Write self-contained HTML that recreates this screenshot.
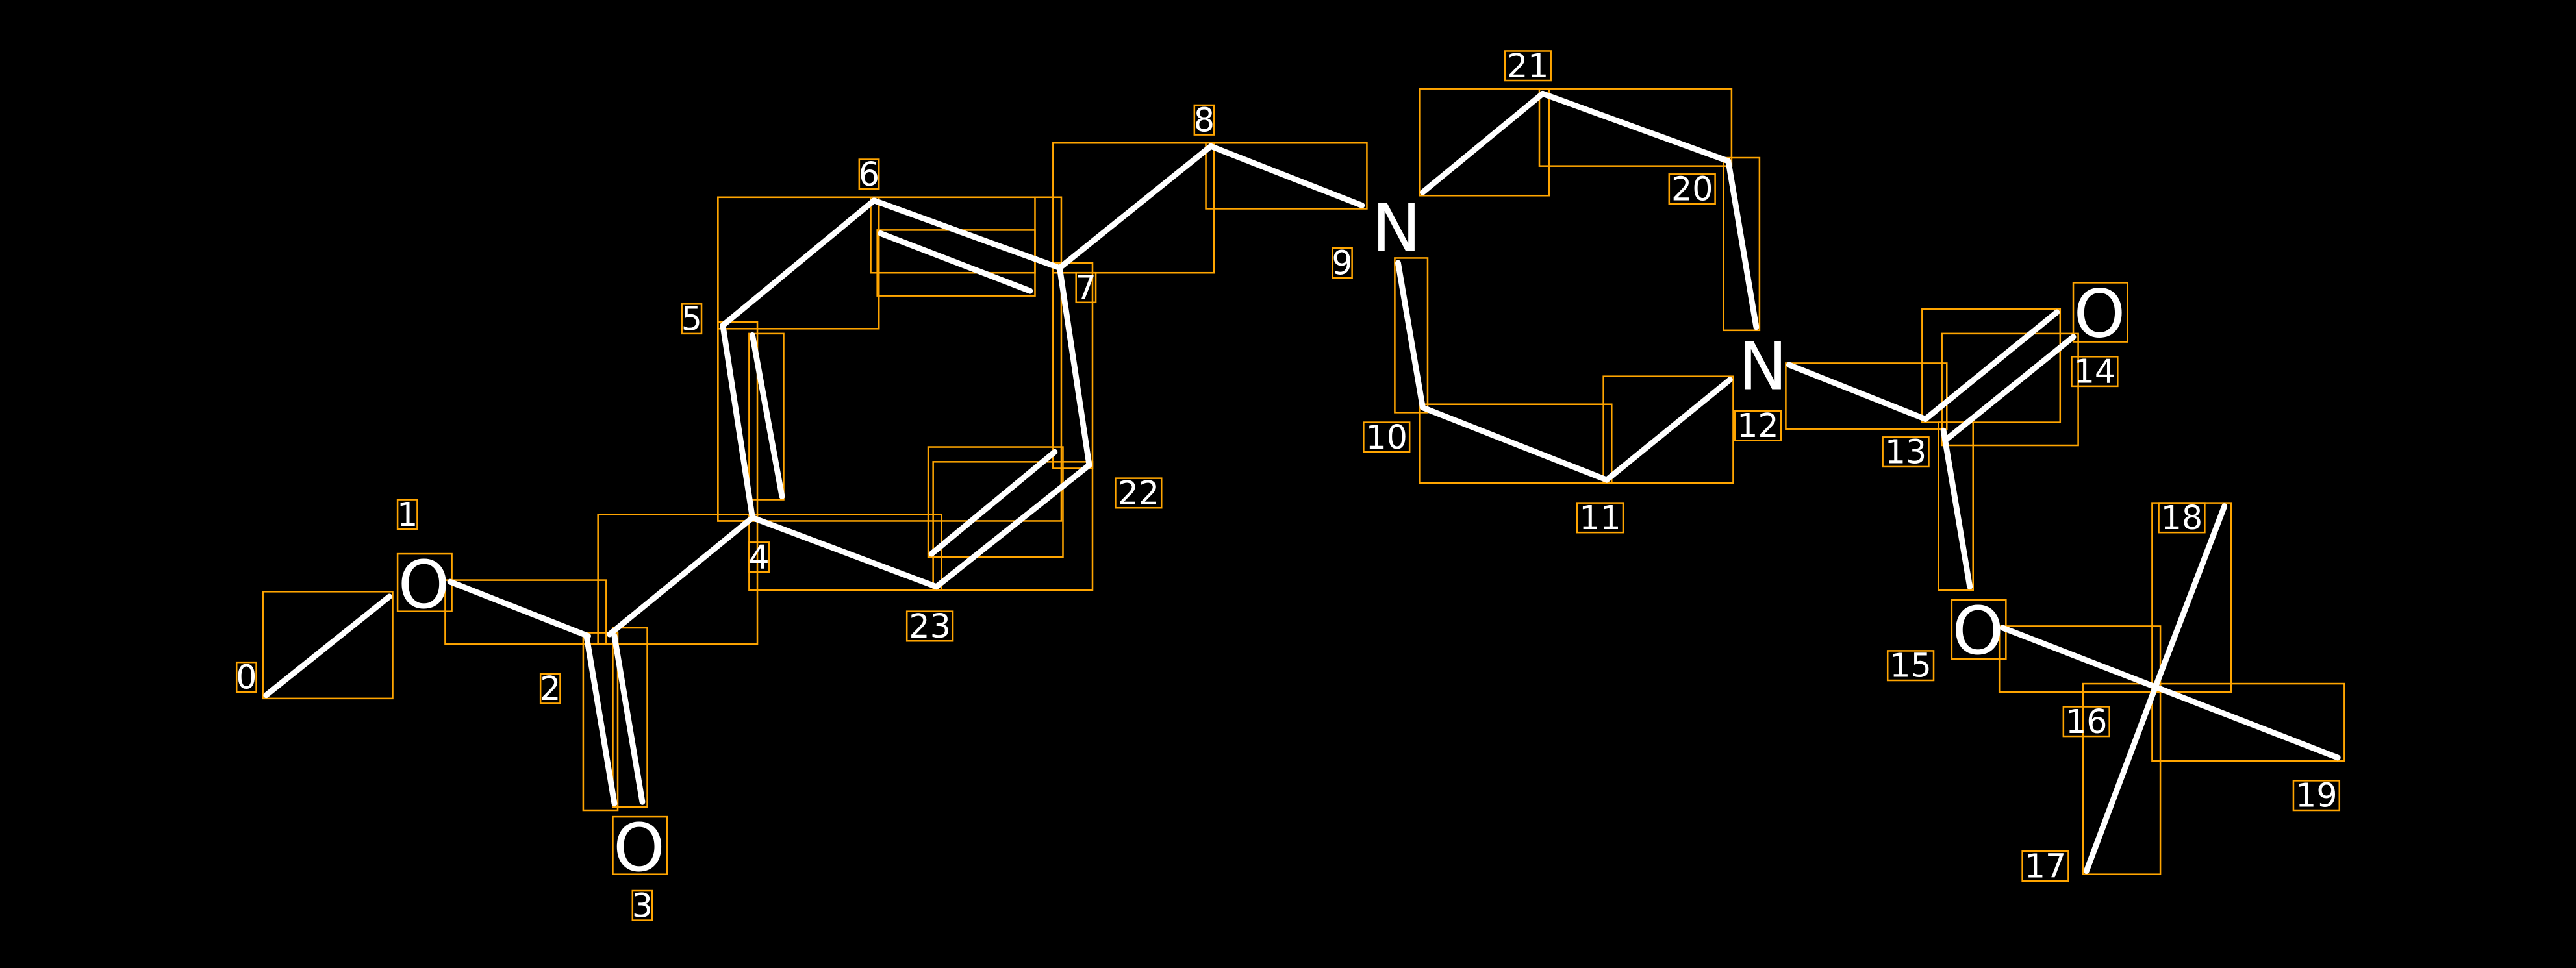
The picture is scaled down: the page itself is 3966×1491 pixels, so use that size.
<!DOCTYPE html>
<html><head><meta charset="utf-8"><style>html,body{margin:0;padding:0;background:#000;overflow:hidden}svg{display:block}</style></head>
<body>
<svg width="3966" height="1491" viewBox="0 0 1568 589" preserveAspectRatio="none" xmlns="http://www.w3.org/2000/svg">
<rect width="1568" height="589" fill="#000"/>
<g fill="none" stroke="#FFA500" stroke-width="1">
<rect x="160" y="360" width="79" height="65"/>
<rect x="271" y="353" width="98" height="39"/>
<rect x="355" y="385" width="21" height="108"/>
<rect x="373" y="382" width="21" height="109"/>
<rect x="364" y="313" width="97" height="79"/>
<rect x="437" y="196" width="24" height="121"/>
<rect x="456" y="203" width="21" height="101"/>
<rect x="437" y="120" width="98" height="80"/>
<rect x="437" y="120" width="209" height="197"/>
<rect x="530" y="120" width="100" height="46"/>
<rect x="534" y="140" width="96" height="40"/>
<rect x="641" y="87" width="98" height="79"/>
<rect x="734" y="87" width="98" height="40"/>
<rect x="641" y="160" width="24" height="125"/>
<rect x="565" y="272" width="82" height="67"/>
<rect x="568" y="281" width="97" height="78"/>
<rect x="456" y="313" width="117" height="46"/>
<rect x="864" y="54" width="79" height="65"/>
<rect x="937" y="54" width="117" height="47"/>
<rect x="1049" y="96" width="22" height="105"/>
<rect x="849" y="157" width="20" height="94"/>
<rect x="864" y="246" width="117" height="48"/>
<rect x="976" y="229" width="79" height="65"/>
<rect x="1087" y="221" width="98" height="40"/>
<rect x="1170" y="188" width="84" height="69"/>
<rect x="1182" y="203" width="83" height="68"/>
<rect x="1180" y="257" width="21" height="102"/>
<rect x="1217" y="381" width="98" height="40"/>
<rect x="1268" y="416" width="47" height="116"/>
<rect x="1310" y="306" width="48" height="115"/>
<rect x="1310" y="416" width="117" height="47"/>
<rect x="242" y="337" width="33" height="35"/>
<rect x="373" y="497" width="33" height="35"/>
<rect x="1262" y="172" width="33" height="36"/>
<rect x="1188" y="365" width="33" height="36"/>
<rect x="144" y="403" width="12" height="18"/>
<rect x="242" y="304" width="12" height="18"/>
<rect x="329" y="410" width="12" height="18"/>
<rect x="385" y="542" width="12" height="18"/>
<rect x="456" y="330" width="12" height="18"/>
<rect x="415" y="185" width="12" height="18"/>
<rect x="523" y="97" width="12" height="18"/>
<rect x="655" y="166" width="12" height="18"/>
<rect x="727" y="64" width="12" height="18"/>
<rect x="811" y="151" width="12" height="18"/>
<rect x="830" y="257" width="28" height="18"/>
<rect x="960" y="306" width="28" height="18"/>
<rect x="1056" y="250" width="28" height="18"/>
<rect x="1146" y="266" width="28" height="18"/>
<rect x="1261" y="217" width="28" height="18"/>
<rect x="1149" y="396" width="28" height="18"/>
<rect x="1256" y="430" width="28" height="18"/>
<rect x="1231" y="518" width="28" height="18"/>
<rect x="1314" y="306" width="28" height="18"/>
<rect x="1396" y="475" width="28" height="18"/>
<rect x="1016" y="106" width="28" height="18"/>
<rect x="916" y="31" width="28" height="18"/>
<rect x="679" y="291" width="28" height="18"/>
<rect x="552" y="372" width="28" height="18"/>
</g>
<g stroke="#fff" stroke-width="3.5" stroke-linecap="round" fill="none">
<line x1="162" y1="423" x2="237" y2="363"/>
<line x1="274" y1="354" x2="358" y2="387"/>
<line x1="357" y1="387" x2="374" y2="489"/>
<line x1="374" y1="387" x2="391" y2="488"/>
<line x1="371" y1="386" x2="458" y2="315"/>
<line x1="458" y1="315" x2="440" y2="198"/>
<line x1="458" y1="204" x2="476" y2="302"/>
<line x1="440" y1="198" x2="532" y2="122"/>
<line x1="532" y1="122" x2="645" y2="163"/>
<line x1="536" y1="142" x2="627" y2="177"/>
<line x1="645" y1="163" x2="737" y2="89"/>
<line x1="737" y1="89" x2="829" y2="125"/>
<line x1="851" y1="160" x2="866" y2="248"/>
<line x1="866" y1="248" x2="978" y2="292"/>
<line x1="978" y1="292" x2="1053" y2="231"/>
<line x1="1089" y1="222" x2="1172" y2="255"/>
<line x1="1172" y1="255" x2="1252" y2="190"/>
<line x1="1184" y1="268" x2="1262" y2="205"/>
<line x1="1183" y1="262" x2="1199" y2="357"/>
<line x1="1219" y1="382" x2="1312" y2="418"/>
<line x1="1312" y1="418" x2="1270" y2="530"/>
<line x1="1312" y1="418" x2="1354" y2="308"/>
<line x1="1312" y1="418" x2="1423" y2="461"/>
<line x1="1069" y1="199" x2="1052" y2="98"/>
<line x1="1052" y1="98" x2="939" y2="57"/>
<line x1="939" y1="57" x2="866" y2="117"/>
<line x1="645" y1="163" x2="663" y2="283"/>
<line x1="663" y1="283" x2="570" y2="357"/>
<line x1="642" y1="275" x2="567" y2="337"/>
<line x1="570" y1="357" x2="458" y2="315"/>
</g>
<g fill="#fff" font-family="DejaVu Sans, Liberation Sans, sans-serif" text-anchor="middle" dominant-baseline="central">
<g font-size="40">
<text x="258" y="356">O</text>
<text x="389" y="516">O</text>
<text x="850" y="139">N</text>
<text x="1073" y="223">N</text>
<text x="1278" y="191">O</text>
<text x="1204" y="384">O</text>
</g>
<g font-size="20">
<text x="150" y="412">0</text>
<text x="248" y="313">1</text>
<text x="335" y="419">2</text>
<text x="391" y="551">3</text>
<text x="462" y="339">4</text>
<text x="421" y="194">5</text>
<text x="529" y="106">6</text>
<text x="661" y="175">7</text>
<text x="733" y="73">8</text>
<text x="817" y="160">9</text>
<text x="844" y="266">10</text>
<text x="974" y="315">11</text>
<text x="1070" y="259">12</text>
<text x="1160" y="275">13</text>
<text x="1275" y="226">14</text>
<text x="1163" y="405">15</text>
<text x="1270" y="439">16</text>
<text x="1245" y="527">17</text>
<text x="1328" y="315">18</text>
<text x="1410" y="484">19</text>
<text x="1030" y="115">20</text>
<text x="930" y="40">21</text>
<text x="693" y="300">22</text>
<text x="566" y="381">23</text>
</g>
</g>
</svg>
</body></html>
